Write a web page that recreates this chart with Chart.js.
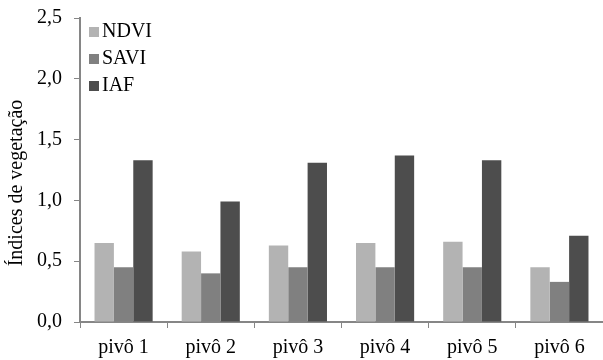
<!DOCTYPE html>
<html>
<head>
<meta charset="utf-8">
<script src="https://cdn.jsdelivr.net/npm/chart.js@4"></script>
<style>
  html, body { margin: 0; padding: 0; background: #fff; }
  #wrap { width: 603px; height: 360px; position: relative; }
</style>
</head>
<body>
<div id="wrap"><canvas id="chart"></canvas></div>
<script>
// categorias e valores
const categories = ['pivô 1', 'pivô 2', 'pivô 3', 'pivô 4', 'pivô 5', 'pivô 6'];
const ndvi = [0.65, 0.58, 0.63, 0.65, 0.66, 0.45];
const savi = [0.45, 0.40, 0.45, 0.45, 0.45, 0.33];
const iaf = [1.33, 0.99, 1.31, 1.37, 1.33, 0.71];
const yTicks = [0, 0.5, 1.0, 1.5, 2.0, 2.5];
const yTitle = 'Índices de vegetação';

const axisColor = '#868686';
const fontFamily = '"Liberation Serif", "Times New Roman", serif';

// legenda dentro da área do gráfico e título do eixo y
const extras = {
  id: 'extras',
  afterDraw(chart) {
    const ctx = chart.ctx;
    const yScale = chart.scales.y;
    const x0 = chart.chartArea.left + 9;
    let y = yScale.getPixelForValue(2.5) + 14;
    ctx.save();
    ctx.font = '20px ' + fontFamily;
    ctx.textBaseline = 'middle';
    chart.data.datasets.forEach(ds => {
      ctx.fillStyle = ds.backgroundColor;
      ctx.fillRect(x0, y - 5, 10, 10);
      ctx.fillStyle = '#000';
      ctx.fillText(ds.label, x0 + 13, y);
      y += 27;
    });
    // título do eixo y
    ctx.translate(17, 183);
    ctx.rotate(-Math.PI / 2);
    ctx.textAlign = 'center';
    ctx.fillText(yTitle, 0, 0);
    ctx.restore();
  }
};

const ctx = document.getElementById('chart').getContext('2d');
new Chart(ctx, {
  type: 'bar',
  data: {
    labels: categories,
    datasets: [
      { label: 'NDVI', data: ndvi, backgroundColor: '#b3b3b3' },
      { label: 'SAVI', data: savi, backgroundColor: '#808080' },
      { label: 'IAF', data: iaf, backgroundColor: '#4d4d4d' }
    ]
  },
  options: {
    responsive: true,
    maintainAspectRatio: false,
    animation: false,
    layout: { padding: { top: 18, right: 0, left: 0, bottom: 0 } },
    datasets: {
      bar: { barPercentage: 1.0, categoryPercentage: 0.667, borderWidth: 0 }
    },
    plugins: {
      legend: { display: false },
      tooltip: { enabled: false }
    },
    scales: {
      x: {
        offset: true,
        grid: {
          offset: true,
          drawOnChartArea: false,
          drawTicks: true,
          tickLength: 6,
          color: axisColor
        },
        border: { color: axisColor, width: 2 },
        ticks: { color: '#000', font: { family: fontFamily, size: 20 }, padding: 8 },
        afterFit(scale) { scale.height = 38; }
      },
      y: {
        min: 0,
        max: 2.5,
        afterBuildTicks(scale) { scale.ticks = yTicks.map(v => ({ value: v })); },
        grid: {
          drawOnChartArea: false,
          drawTicks: true,
          tickLength: 6,
          color: axisColor
        },
        border: { color: axisColor, width: 2 },
        ticks: {
          color: '#000',
          font: { family: fontFamily, size: 20 },
          padding: 12,
          callback: v => v.toFixed(1).replace('.', ',')
        },
        afterFit(scale) {
          scale.width = 80;
          scale.paddingTop = 0;
          scale.paddingBottom = 0;
        }
      }
    }
  },
  plugins: [extras]
});
</script>
</body>
</html>
